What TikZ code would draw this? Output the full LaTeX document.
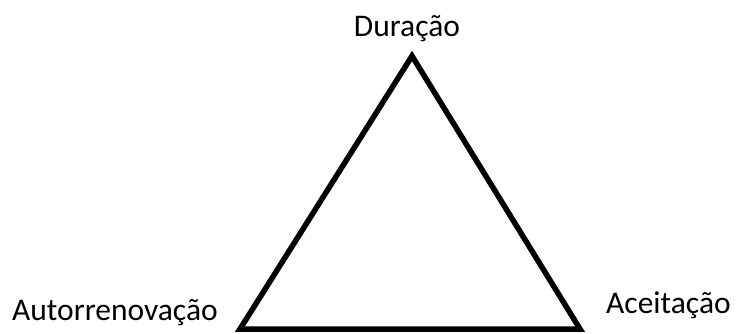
\documentclass[tikz,border=0pt]{standalone}
\usepackage{fontspec}
\setmainfont{Carlito}
\usetikzlibrary{positioning}

\begin{document}
\begin{tikzpicture}[x=1pt,y=1pt,
  lbl/.style={inner sep=0pt,font=\fontsize{31.5}{36}\selectfont},
  edge/.style={line width=5.5pt,miter limit=10}]
  \useasboundingbox (0,0) rectangle (736,333);
  \coordinate (top) at (412,277);
  \coordinate (left) at (240,4);
  \coordinate (right) at (580,4);
  \draw[edge] (top) -- (left) -- (right) -- cycle;
  \node[lbl,anchor=base] (dur) at (407,297) {Duração};
  \node[lbl,anchor=base west] (auto) at (12,13) {Autorrenovação};
  \node[lbl,anchor=base west] (acei) at (606,20) {Aceitação};
\end{tikzpicture}
\end{document}
